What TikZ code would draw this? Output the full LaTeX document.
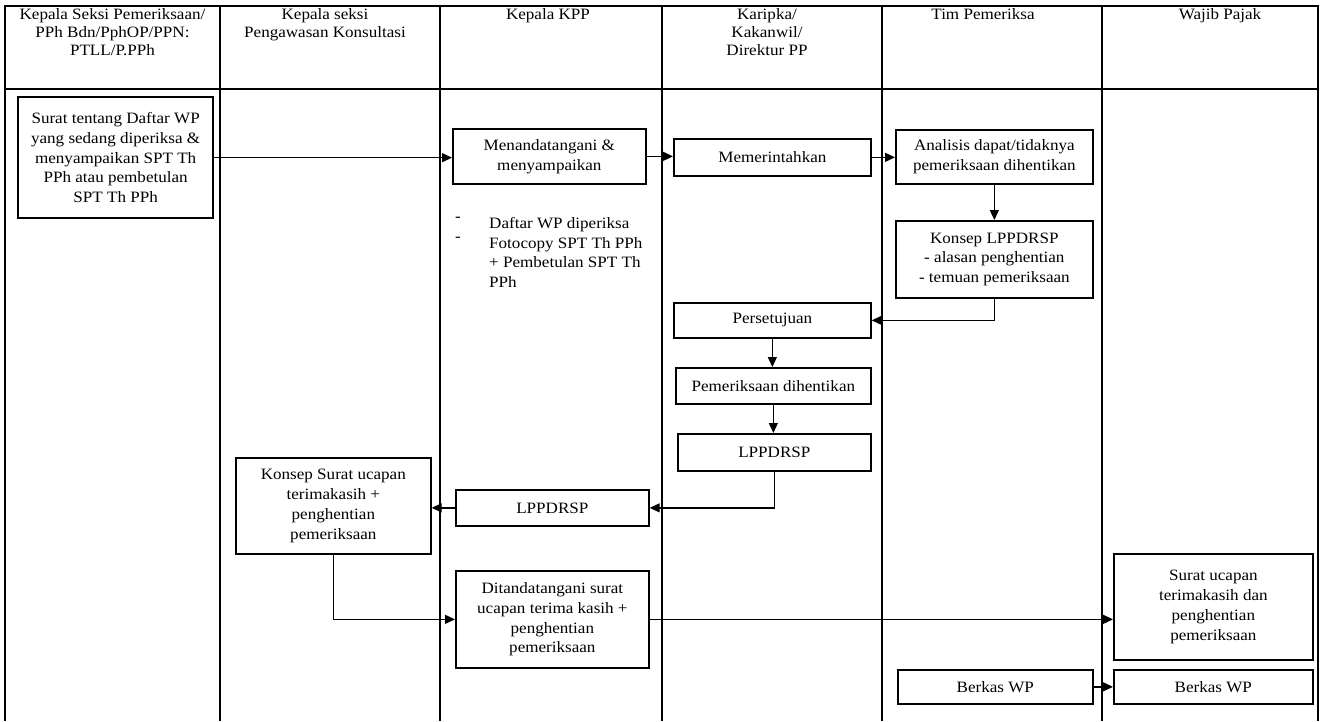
\documentclass[tikz,border=0pt]{standalone}
\usepackage{fontspec}
\setmainfont{Liberation Serif}[FakeStretch=1.08]
\usetikzlibrary{arrows.meta}
\newcommand\bodyfs{\fontsize{15.8}{19.8}\selectfont}
\newcommand\headfs{\fontsize{15.8}{18}\selectfont}
\tikzset{
  lane/.style={line width=1.7pt},
  box/.style={draw, line width=1.7pt, align=center, inner sep=1pt, font=\bodyfs, anchor=north west},
  head/.style={align=center, inner sep=0pt, font=\headfs, anchor=north},
  plain/.style={align=left, inner sep=0pt, font=\bodyfs, anchor=north west},
  arr/.style={-{Triangle[length=10pt,width=9pt]}, line width=1.3pt}
}
\newcommand\bx[6]{\node[box, minimum width=#4-#2, minimum height=#5-#3] (#1) at (#2,#3) {#6};}
\begin{document}
\begin{tikzpicture}[x=1pt,y=-1pt]
\useasboundingbox (0,0) rectangle (1321,721);
% header
\draw[lane] (5,6) rectangle (1318,89);
\foreach \xx in {220,440,662,882,1102}{\draw[lane] (\xx,6) -- (\xx,721);}
\draw[lane] (5,89) -- (5,721);
\draw[lane] (1318,89) -- (1318,721);
\node[head] (h1) at (112.5,8) {Kepala Seksi Pemeriksaan/\\PPh Bdn/PphOP/PPN:\\PTLL/P.PPh};
\node[head] (h2) at (325,8) {Kepala seksi\\Pengawasan Konsultasi};
\node[head] (h3) at (548,8) {Kepala KPP};
\node[head] (h4) at (767,8) {Karipka/\\Kakanwil/\\Direktur PP};
\node[head] (h5) at (983,8) {Tim Pemeriksa};
\node[head] (h6) at (1220,8) {Wajib Pajak};
% boxes
\node[box, line width=2.3pt, minimum width=195, minimum height=121] (surat) at (17,96) {Surat tentang Daftar WP\\yang sedang diperiksa \&\\menyampaikan SPT Th\\PPh atau pembetulan\\SPT Th PPh};
\bx{menand}{452}{128}{645}{183}{Menandatangani \&\\menyampaikan}
\bx{memer}{673}{138}{870}{175}{Memerintahkan}
\bx{analisis}{895}{129}{1092}{183}{Analisis dapat/tidaknya\\pemeriksaan dihentikan}
\bx{konsep}{895}{220}{1092}{297}{Konsep LPPDRSP\\- alasan penghentian\\- temuan pemeriksaan}
\bx{persetujuan}{673}{302}{870}{337}{Persetujuan}
\bx{pemhent}{675}{367}{870}{403}{Pemeriksaan dihentikan}
\bx{lppa}{677}{433}{870}{470}{LPPDRSP}
\bx{lppb}{455}{489}{648}{525}{LPPDRSP}
\bx{konsepsurat}{235}{457}{430}{553}{Konsep Surat ucapan\\terimakasih +\\penghentian\\pemeriksaan}
\bx{ditand}{455}{570}{648}{667}{Ditandatangani surat\\ucapan terima kasih +\\penghentian\\pemeriksaan}
\bx{suratucapan}{1113}{553}{1312}{659}{Surat ucapan\\terimakasih dan\\penghentian\\pemeriksaan}
\bx{berkasa}{897}{669}{1092}{703}{Berkas WP}
\bx{berkasb}{1113}{669}{1312}{703}{Berkas WP}
% list
\node[plain] (b1) at (455,217) {-};
\node[plain] (b2) at (455,237) {-};
\node[plain] (lst) at (489,217) {Daftar WP diperiksa\\Fotocopy SPT Th PPh\\+ Pembetulan SPT Th\\PPh};
% connectors
\draw[arr] (surat.east) -- (surat.east -| menand.west);
\draw[arr] (menand.east) -- (menand.east -| memer.west);
\draw[arr] (memer.east) -- (memer.east -| analisis.west);
\draw[arr] (analisis.south) -- (konsep.north);
\draw[arr] (konsep.south) |- (persetujuan.east);
\draw[arr] (persetujuan.south) -- (persetujuan.south |- pemhent.north);
\draw[arr] (pemhent.south) -- (pemhent.south |- lppa.north);
\draw[arr] (lppa.south) |- (lppb.east);
\draw[arr] (lppb.west) -- (lppb.west -| konsepsurat.east);
\draw[arr] (konsepsurat.south) |- (ditand.west);
\draw[arr] (ditand.east) -- (ditand.east -| suratucapan.west);
\draw[arr] (berkasa.east) -- (berkasa.east -| berkasb.west);
\end{tikzpicture}
\end{document}
